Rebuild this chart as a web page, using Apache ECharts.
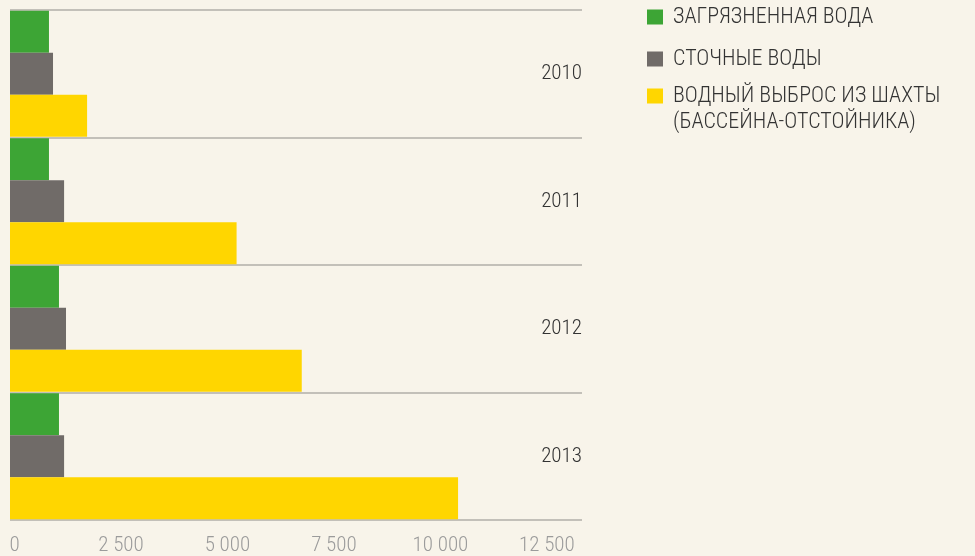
<!DOCTYPE html>
<html>
<head>
<meta charset="utf-8">
<script src="https://cdn.jsdelivr.net/npm/echarts@6/dist/echarts.min.js"></script>
<style>
  html, body { margin: 0; padding: 0; background: #f8f4ea; }
  #chart { width: 975px; height: 556px; }
</style>
</head>
<body>
<div id="chart"></div>
<script>
// values
const years = ["2010", "2011", "2012", "2013"];
const polluted = [915, 915, 1150, 1150];
const sewage = [1010, 1270, 1315, 1270];
const mineDrain = [1810, 5320, 6850, 10520];

const names = [
    "ЗАГРЯЗНЕННАЯ ВОДА",
    "СТОЧНЫЕ ВОДЫ",
    "ВОДНЫЙ ВЫБРОС ИЗ ШАХТЫ (БАССЕЙНА-ОТСТОЙНИКА)"
];
const colors = ["#3da535", "#706b68", "#ffd600"];

const FONT = '"Roboto Condensed", "Liberation Sans Narrow", "DejaVu Sans Condensed", Roboto, sans-serif';
const FS = 21;

const chart = echarts.init(document.getElementById("chart"), null, { renderer: "canvas" });

function bar(name, data, color) {
    return {
        name: name,
        type: "bar",
        data: data,
        barWidth: 42,
        barGap: "0%",
        itemStyle: { color: color },
        silent: true
    };
}

// square swatch kept at 16x15 inside a wider slot, so the text sits further right
const SWATCH = "path://M0,0h16v15h-16z";
const legendText = { fontFamily: FONT, fontSize: 22, fontWeight: 300, color: "#333333" };
const legendBase = {
    orient: "vertical",
    left: 647,
    padding: 0,
    itemWidth: 26, itemHeight: 15,
    icon: SWATCH,
    itemStyle: { borderWidth: 0 },
    selectedMode: false
};

chart.setOption({
    backgroundColor: "#f8f4ea",
    animation: false,
    color: colors,
    textStyle: { fontFamily: FONT },
    grid: { left: 10, right: 393, top: 10, bottom: 36, containLabel: false },
    legend: [
        Object.assign({}, legendBase, {
            data: [names[0], names[1]],
            top: 6,
            itemGap: 20,
            textStyle: Object.assign({ lineHeight: 22 }, legendText)
        }),
        Object.assign({}, legendBase, {
            data: [names[2]],
            top: 57,
            // empty first line keeps the square level with the first text line
            formatter: function () { return "\nВОДНЫЙ ВЫБРОС ИЗ ШАХТЫ\n(БАССЕЙНА-ОТСТОЙНИКА)"; },
            textStyle: Object.assign({ lineHeight: 26 }, legendText)
        })
    ],
    xAxis: {
        type: "value",
        min: 0,
        max: 13430,
        interval: 2500,
        axisLine: { show: false },
        axisTick: { show: false },
        splitLine: { show: false },
        axisLabel: {
            showMaxLabel: false,
            margin: 15,
            fontFamily: FONT,
            fontSize: FS,
            fontWeight: 300,
            color: "#9b9b9b",
            padding: [0, 0, 0, 9],
            formatter: function (v) { return String(v).replace(/\B(?=(\d{3})+(?!\d))/g, " "); }
        }
    },
    yAxis: {
        type: "category",
        data: years,
        inverse: true,
        position: "right",
        axisLine: { show: false },
        axisTick: { show: false },
        splitLine: { show: true, lineStyle: { color: "#c3c0b9", width: 2 } },
        axisLabel: {
            inside: true,
            margin: 0,
            fontFamily: FONT,
            fontSize: FS,
            fontWeight: 300,
            color: "#333333"
        }
    },
    series: [
        bar(names[0], polluted, colors[0]),
        bar(names[1], sewage, colors[1]),
        bar(names[2], mineDrain, colors[2])
    ]
});
</script>
</body>
</html>
